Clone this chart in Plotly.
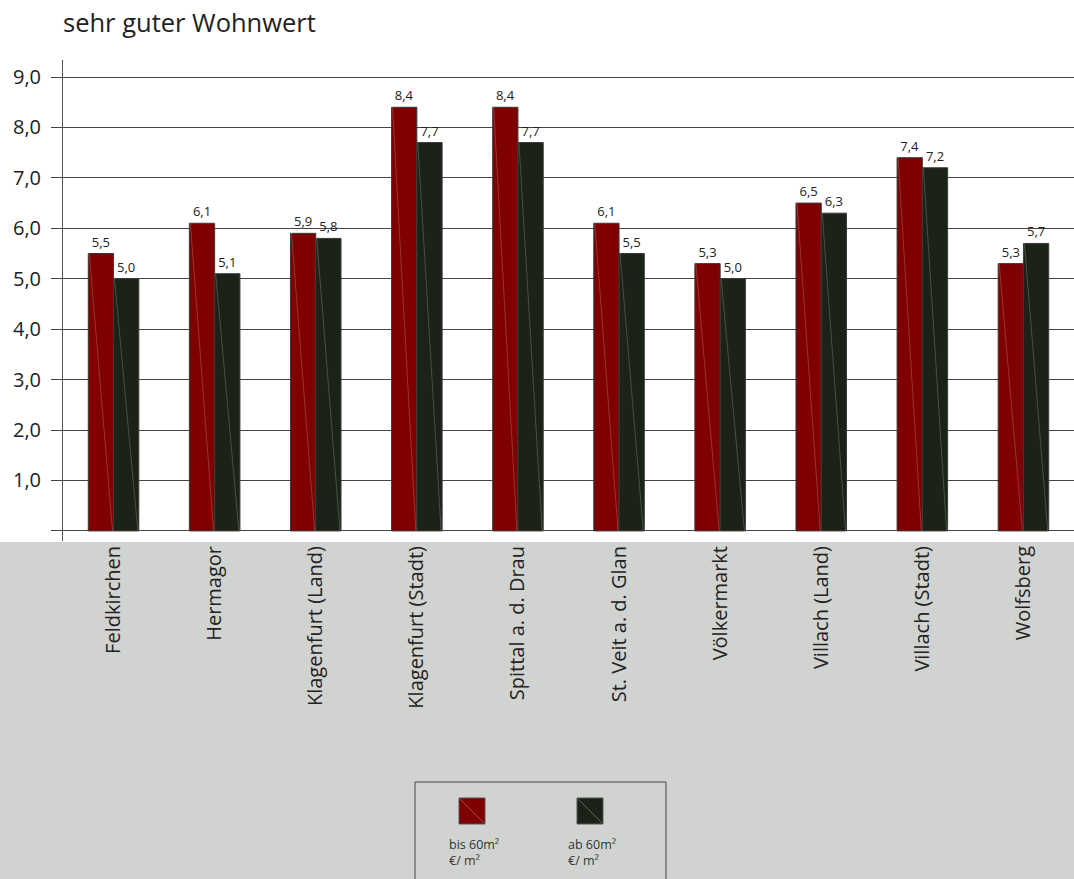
import plotly.graph_objects as go

# Districts and rents (EUR per m²) for "sehr guter Wohnwert"
districts = [
    "Feldkirchen", "Hermagor", "Klagenfurt (Land)", "Klagenfurt (Stadt)",
    "Spittal a. d. Drau", "St. Veit a. d. Glan", "Völkermarkt",
    "Villach (Land)", "Villach (Stadt)", "Wolfsberg",
]
bis_60 = [5.5, 6.1, 5.9, 8.4, 8.4, 6.1, 5.3, 6.5, 7.4, 5.3]
ab_60 = [5.0, 5.1, 5.8, 7.7, 7.7, 5.5, 5.0, 6.3, 7.2, 5.7]

y_ticks = [0, 1, 2, 3, 4, 5, 6, 7, 8, 9]
y_ticktext = ["", "1,0", "2,0", "3,0", "4,0", "5,0", "6,0", "7,0", "8,0", "9,0"]

RED = "#7f0000"
GREEN = "#1b2318"
GREY_BG = "#d1d3d1"
TEXT = "#222222"
FONT = "Open Sans"

W, H = 1074, 879
ML, MR, MT, MB = 63, 0, 60, 338
PW, PH = W - ML - MR, H - MT - MB


def px_x(px):
    return (px - ML) / PW


def px_y(py):
    return (H - MB - py) / PH


fig = go.Figure()
fig.add_trace(go.Bar(
    name="bis 60m²<br>€/ m²", x=districts, y=bis_60,
    marker=dict(color=RED, line=dict(color="#3a3a3a", width=1)),
    texttemplate="%{y:.1f}", textposition="outside", cliponaxis=False,
    textfont=dict(size=13, color=TEXT, family=FONT),
))
fig.add_trace(go.Bar(
    name="ab 60m²<br>€/ m²", x=districts, y=ab_60,
    marker=dict(color=GREEN, line=dict(color="#3a3a3a", width=1)),
    texttemplate="%{y:.1f}", textposition="outside", cliponaxis=False,
    textfont=dict(size=13, color=TEXT, family=FONT),
))

shapes = []
# grey band under the plot area
shapes.append(dict(type="rect", xref="paper", yref="paper",
                   x0=px_x(-5), x1=px_x(W + 5), y0=px_y(542), y1=px_y(H + 5),
                   fillcolor=GREY_BG, line=dict(width=0), layer="below"))

# faint diagonal highlight inside each bar (top-left to bottom-right)
half = 0.25
for i, (a, b) in enumerate(zip(bis_60, ab_60)):
    for x0, v in ((i - half, a), (i, b)):
        shapes.append(dict(type="line", xref="x", yref="y",
                           x0=x0 + 0.01, y0=v, x1=x0 + half - 0.01, y1=0,
                           line=dict(color="rgba(255,255,255,0.2)", width=1),
                           layer="above"))

# legend frame and swatches
shapes.append(dict(type="rect", xref="paper", yref="paper",
                   x0=px_x(415), x1=px_x(666), y0=px_y(782), y1=px_y(H + 10),
                   fillcolor="rgba(0,0,0,0)", line=dict(color="#444444", width=1)))
legend_items = [(RED, 459, "bis 60m²<br>€/ m²", 447), (GREEN, 577, "ab 60m²<br>€/ m²", 566)]
annotations = []
for color, sx, label, tx in legend_items:
    shapes.append(dict(type="rect", xref="paper", yref="paper",
                       x0=px_x(sx), x1=px_x(sx + 26), y0=px_y(798), y1=px_y(824),
                       fillcolor=color, line=dict(color="#555555", width=1)))
    shapes.append(dict(type="line", xref="paper", yref="paper",
                       x0=px_x(sx + 1), x1=px_x(sx + 25), y0=px_y(799), y1=px_y(823),
                       line=dict(color="rgba(255,255,255,0.3)", width=1)))
    annotations.append(dict(xref="paper", yref="paper", x=px_x(tx), y=px_y(834),
                            xanchor="left", yanchor="top", align="left",
                            text=label, showarrow=False,
                            font=dict(size=12.5, color="#333333", family=FONT)))

fig.update_layout(
    width=W, height=H,
    margin=dict(l=ML, r=MR, t=MT, b=MB, pad=0),
    paper_bgcolor="white", plot_bgcolor="white",
    separators=",.",
    barmode="group", bargap=0.5, bargroupgap=0,
    showlegend=False,
    font=dict(family=FONT, color=TEXT),
    title=dict(text="sehr guter Wohnwert", x=ML / W, xanchor="left",
               xref="container", y=1 - 23 / H, yanchor="middle",
               font=dict(size=25.5, color=TEXT, family=FONT)),
    shapes=shapes, annotations=annotations,
)
fig.update_xaxes(
    type="category", range=[-0.5, len(districts) - 0.5],
    tickangle=-90, tickfont=dict(size=20, color=TEXT, family=FONT),
    showgrid=False, showline=False, zeroline=False, ticks="",
)
fig.update_yaxes(
    range=[-0.2, 9.337], tickvals=y_ticks, ticktext=y_ticktext,
    tickfont=dict(size=20, color=TEXT, family=FONT),
    ticks="outside", ticklen=11, tickcolor="#444444", ticklabelstandoff=6,
    showgrid=True, gridcolor="#444444", gridwidth=1,
    showline=True, linecolor="#555555", linewidth=1,
    zeroline=False,
)

fig.write_html("out.html")
